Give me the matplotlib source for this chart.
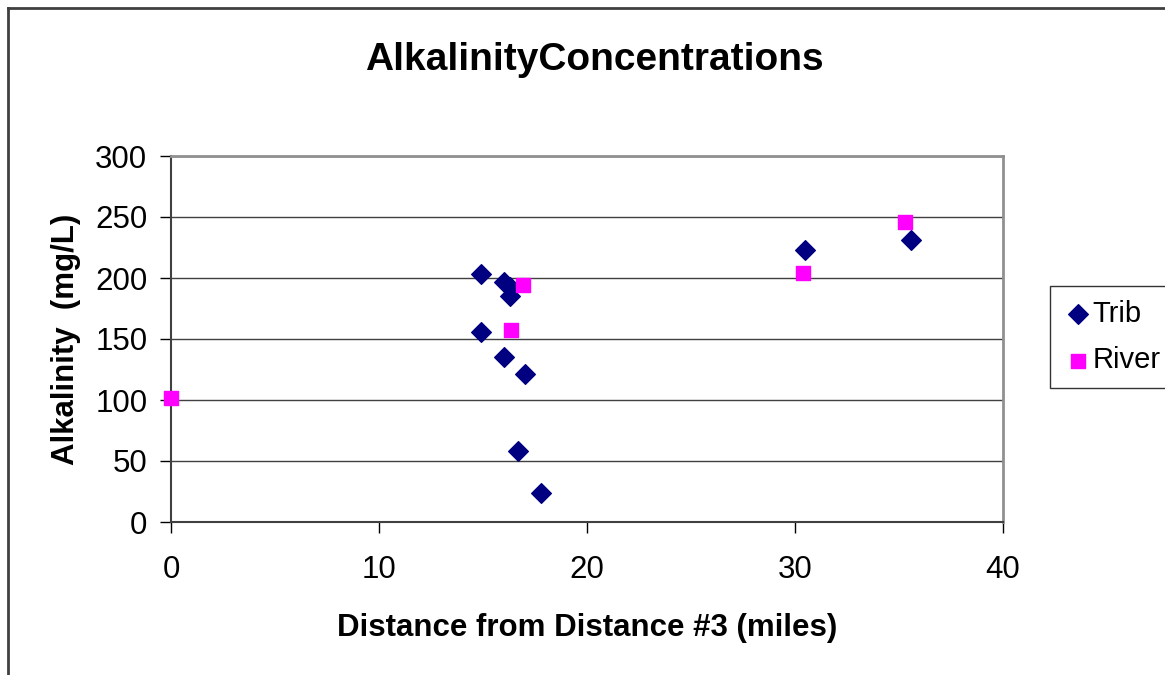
import matplotlib
matplotlib.use('Agg')
import matplotlib.pyplot as plt
from matplotlib.lines import Line2D

plt.rcParams['font.family'] = ['Liberation Sans', 'DejaVu Sans']

# Trib の値
trib_x = [14.9, 16.0, 16.3, 16.3, 14.9, 16.0, 17.0, 16.7, 17.8, 30.5, 35.6]
trib_y = [203, 197, 193, 185, 156, 135, 121, 58, 24, 223, 231]

# River の値
river_x = [0.0, 16.9, 16.35, 30.4, 35.3]
river_y = [102, 194, 157, 204, 246]

x_ticks = [0, 10, 20, 30, 40]
y_ticks = [0, 50, 100, 150, 200, 250, 300]

fig = plt.figure(figsize=(11.65, 6.75), dpi=100)
ax = fig.add_axes([171 / 1165, 1 - 522 / 675, (1003 - 171) / 1165, (522 - 156) / 675])

# 外枠 (上と左だけ見えている)
fig.add_artist(Line2D([8 / 1165, 8 / 1165], [0, 1 - 8 / 675], transform=fig.transFigure,
                      color='#404040', lw=2))
fig.add_artist(Line2D([8 / 1165, 1], [1 - 8 / 675, 1 - 8 / 675], transform=fig.transFigure,
                      color='#404040', lw=2))

ax.scatter(trib_x, trib_y, marker='D', s=100, color='#000080', label='Trib', zorder=3,
           clip_on=False)
ax.scatter(river_x, river_y, marker='s', s=110, color='#FF00FF', label='River', zorder=3,
           clip_on=False)

ax.set_xlim(0, 40)
ax.set_ylim(0, 300)
ax.set_xticks(x_ticks)
ax.set_yticks(y_ticks)
ax.yaxis.grid(True, color='#404040', lw=1)
ax.set_axisbelow(True)

for side in ['top', 'right']:
    ax.spines[side].set_color('#909090')
    ax.spines[side].set_linewidth(2)
for side in ['left', 'bottom']:
    ax.spines[side].set_color('#404040')
    ax.spines[side].set_linewidth(1.5)

ax.tick_params(axis='y', direction='out', length=8, width=1, labelsize=22.5, pad=9)
ax.tick_params(axis='x', direction='out', length=8, width=1, labelsize=22.5, pad=16)

ax.set_xlabel('Distance from Distance #3 (miles)', fontsize=22.5, fontweight='bold', labelpad=20)
ax.set_ylabel('Alkalinity  (mg/L)', fontsize=22.5, fontweight='bold', labelpad=10)
fig.text(594 / 1165, 1 - 60 / 675, 'AlkalinityConcentrations', fontsize=28, fontweight='bold',
         ha='center', va='center')

leg = ax.legend(loc='center left', bbox_to_anchor=(1050 / 1165, 1 - 337 / 675),
                bbox_transform=fig.transFigure, fontsize=21, frameon=True, fancybox=False,
                handletextpad=0.0, borderpad=0.45, labelspacing=0.65, handlelength=1.0,
                borderaxespad=0)
leg.get_frame().set_edgecolor('#000000')
leg.get_frame().set_linewidth(1)

fig.savefig('out.png', dpi=100)
